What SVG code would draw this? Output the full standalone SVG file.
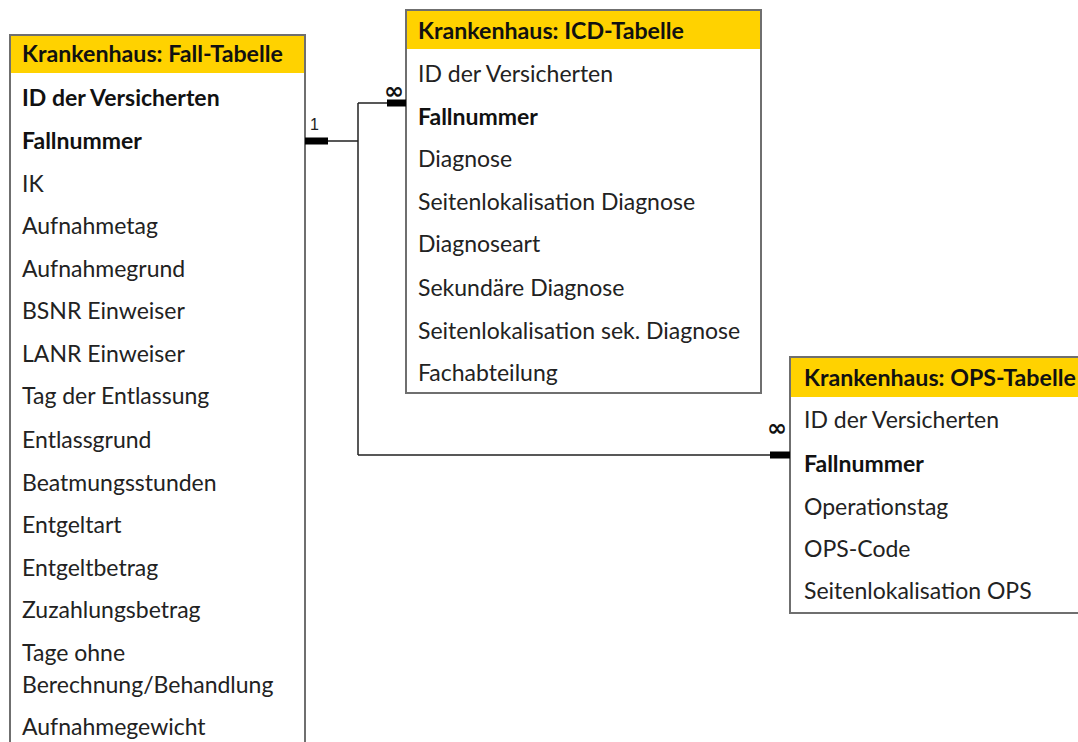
<svg xmlns="http://www.w3.org/2000/svg" width="1078" height="742" viewBox="0 0 1078 742">
  <style>
    .frame { fill: #ffffff; stroke: #6f6f6f; stroke-width: 2; }
    .head { fill: #ffd200; }
    .title { font-family: Lato, "Liberation Sans", sans-serif; font-size: 23.2px; font-weight: bold; fill: #111111; }
    .row { font-family: Lato, "Liberation Sans", sans-serif; font-size: 23px; fill: #222222; }
    .key { font-weight: bold; fill: #111111; }
    .link { fill: none; stroke: #222222; stroke-width: 1.5; }
    .bar { fill: #000000; }
    .card { font-family: "Liberation Sans", sans-serif; font-size: 16px; fill: #222222; }
    .many { font-family: "DejaVu Sans", sans-serif; font-size: 24px; font-weight: bold; fill: #111111; }
  </style>

  <rect width="1078" height="742" fill="#ffffff"/>

  <!-- Fall table (runs off the bottom edge) -->
  <g id="fall-tabelle">
    <rect class="frame" x="10" y="35" width="295" height="720"/>
    <rect class="head" x="11" y="36" width="293" height="37"/>
    <text class="title" x="22" y="62">Krankenhaus: Fall-Tabelle</text>
    <text class="row key" x="22" y="106">ID der Versicherten</text>
    <text class="row key" x="22" y="149">Fallnummer</text>
    <text class="row" x="22" y="192">IK</text>
    <text class="row" x="22" y="234">Aufnahmetag</text>
    <text class="row" x="22" y="277">Aufnahmegrund</text>
    <text class="row" x="22" y="319">BSNR Einweiser</text>
    <text class="row" x="22" y="362">LANR Einweiser</text>
    <text class="row" x="22" y="404">Tag der Entlassung</text>
    <text class="row" x="22" y="448">Entlassgrund</text>
    <text class="row" x="22" y="491">Beatmungsstunden</text>
    <text class="row" x="22" y="533">Entgeltart</text>
    <text class="row" x="22" y="576">Entgeltbetrag</text>
    <text class="row" x="22" y="618">Zuzahlungsbetrag</text>
    <text class="row" x="22" y="661">Tage ohne</text>
    <text class="row" x="22" y="693">Berechnung/Behandlung</text>
    <text class="row" x="22" y="735">Aufnahmegewicht</text>
  </g>

  <!-- ICD table -->
  <g id="icd-tabelle">
    <rect class="frame" x="406" y="10" width="355" height="383"/>
    <rect class="head" x="407" y="11" width="353" height="38"/>
    <text class="title" x="418" y="39">Krankenhaus: ICD-Tabelle</text>
    <text class="row" x="418" y="82">ID der Versicherten</text>
    <text class="row key" x="418" y="125">Fallnummer</text>
    <text class="row" x="418" y="167">Diagnose</text>
    <text class="row" x="418" y="210">Seitenlokalisation Diagnose</text>
    <text class="row" x="418" y="252">Diagnoseart</text>
    <text class="row" x="418" y="296">Sekundäre Diagnose</text>
    <text class="row" x="418" y="339">Seitenlokalisation sek. Diagnose</text>
    <text class="row" x="418" y="381">Fachabteilung</text>
  </g>

  <!-- OPS table (runs off the right edge) -->
  <g id="ops-tabelle">
    <rect class="frame" x="790" y="357" width="300" height="256"/>
    <rect class="head" x="791" y="358" width="298" height="39"/>
    <text class="title" x="804" y="386">Krankenhaus: OPS-Tabelle</text>
    <text class="row" x="804" y="428">ID der Versicherten</text>
    <text class="row key" x="804" y="472">Fallnummer</text>
    <text class="row" x="804" y="515">Operationstag</text>
    <text class="row" x="804" y="557">OPS-Code</text>
    <text class="row" x="804" y="599">Seitenlokalisation OPS</text>
  </g>

  <!-- Relationships: Fallnummer 1 : n -->
  <g id="connectors">
    <path class="link" d="M305 141 H358 M358 103 V455 M358 103 H406 M358 455 H790"/>
    <rect class="bar" x="305" y="137.5" width="23" height="7"/>
    <rect class="bar" x="387" y="99.5" width="19" height="7"/>
    <rect class="bar" x="770" y="451.5" width="20" height="7"/>
    <text class="card" x="310" y="130">1</text>
    <text class="many" x="384" y="99">∞</text>
    <text class="many" x="767" y="436">∞</text>
  </g>
</svg>
